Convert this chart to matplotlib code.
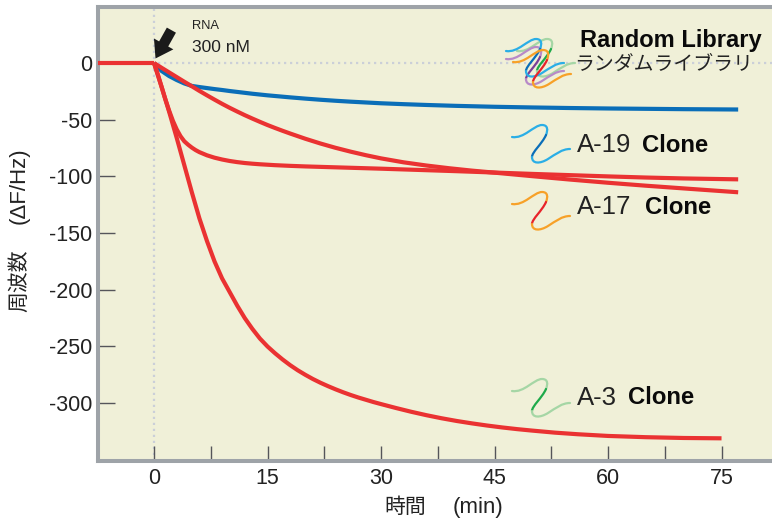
import matplotlib
matplotlib.use('Agg')
import matplotlib.pyplot as plt
from matplotlib.path import Path
from matplotlib.patches import PathPatch

plt.rcParams['font.family'] = ['Liberation Sans', 'Noto Sans CJK JP']
plt.rcParams['axes.unicode_minus'] = False

x_ticks = [0, 15, 30, 45, 60, 75]
x_minor = [7.5, 22.5, 37.5, 52.5, 67.5]
y_ticks = [0, -50, -100, -150, -200, -250, -300]

base_t = [-7.4, 0]
base_v = [0, 0]
blue_t = [0, 1, 2, 3, 4, 5, 6, 7, 8, 9, 10, 11, 12, 13, 14, 15, 16, 18, 20, 22, 24, 26, 28, 30, 33, 36, 40, 45, 50, 55, 60, 65, 70, 77.2]
blue_v = [0, -7, -11.5, -15, -18, -20.2, -21.2, -22.1, -23, -23.8, -24.7, -25.5, -26.3, -27.1, -27.8, -28.5, -29.1, -30.3, -31.4, -32.4, -33.3, -34.1, -34.8, -35.5, -36.3, -37, -37.8, -38.6, -39.2, -39.7, -40.1, -40.4, -40.7, -41]
a19_t = [0, 1, 2, 3, 4, 5, 6, 7, 8, 9, 10, 11, 12, 13, 14, 15, 16, 17, 18, 20, 22, 24, 26, 28, 30, 33, 36, 39, 42, 45, 50, 55, 60, 65, 70, 77.2]
a19_v = [0, -4.2, -8.3, -12.4, -16.5, -20.5, -24.6, -28.5, -32.3, -36, -39.5, -42.8, -46, -49, -51.9, -54.7, -57.3, -59.8, -62.2, -66.8, -71, -74.8, -78.2, -81.3, -84.1, -87.6, -90.4, -92.8, -94.9, -96.7, -99.8, -102.8, -105.6, -108.2, -110.6, -114]
a17_t = [0, 0.5, 1, 1.5, 2, 2.5, 3, 3.5, 4, 4.5, 5, 5.5, 6, 7, 8, 9, 10, 11, 12, 13, 14, 16, 18, 20, 25, 30, 35, 40, 45, 50, 55, 60, 65, 70, 77.2]
a17_v = [0, -10, -21, -32, -42, -51, -58.5, -64.5, -69, -72, -74.6, -76.8, -78.6, -81.4, -83.5, -85.1, -86.4, -87.4, -88.2, -88.8, -89.3, -90.1, -90.7, -91.2, -92.2, -93.2, -94.3, -95.4, -96.6, -97.8, -98.9, -100, -101, -101.8, -102.6]
a3_t = [0, 1, 2, 3, 4, 5, 6, 7, 8, 9, 10, 11, 12, 13, 14, 15, 16, 17, 18, 19, 20, 21, 22, 23, 24, 25, 26, 27, 28, 29, 30, 32, 34, 36, 38, 40, 42, 44, 46, 48, 50, 53, 56, 60, 65, 70, 75]
a3_v = [0, -21, -43, -66, -90, -114, -137, -157, -175, -190, -202, -214, -225, -234.5, -243, -250, -256, -261.5, -266.5, -271, -275, -278.7, -282, -285, -287.8, -290.4, -292.8, -295, -297, -299, -300.8, -304.3, -307.6, -310.6, -313.3, -315.7, -317.8, -319.7, -321.4, -322.9, -324.2, -326, -327.4, -328.9, -330, -330.7, -331]

bg = '#F0F0D8'
red = '#EA3232'
blue = '#0A6EB8'
grey = '#9EA3A8'
ink = '#222222'
black = '#0a0a0a'


def squiggle(ax, x0, y0, colors, lw=1.6):
    # S shape in pixels from x0, y0, drawn in three coloured pieces
    pieces = [
        [(0, 13), (12, 15), (22, 1), (30, 1), (36, 1), (36, 6), (34, 11)],
        [(34, 11), (30, 20), (20, 28), (20, 33)],
        [(20, 33), (20, 40), (28, 40), (36, 35), (44, 30), (50, 25), (58, 25)],
    ]
    for pts, c in zip(pieces, colors):
        codes = [Path.MOVETO] + [Path.CURVE4] * (len(pts) - 1)
        verts = [(x0 + p[0], 518 - (y0 + p[1])) for p in pts]
        ax.add_patch(PathPatch(Path(verts, codes), fc='none', ec=c, lw=lw,
                               transform=None, zorder=4, capstyle='round'))


fig = plt.figure(figsize=(7.72, 5.18), dpi=100)
ax = fig.add_axes([98 / 772, 1 - 461 / 518, 674 / 772, 454 / 518], facecolor=bg)
ax.set_xlim(-7.4, 81.67)
ax.set_ylim(-351, 49.4)

ax.axhline(0, color='#CBCFD8', lw=1.6, ls=(0, (1, 1.7)), zorder=1)
ax.axvline(0, color='#CBCFD8', lw=1.6, ls=(0, (1, 1.7)), zorder=1)

ax.plot(blue_t, blue_v, color=blue, lw=3, zorder=3, solid_capstyle='butt')
for t, v in [(a19_t, a19_v), (a17_t, a17_v), (a3_t, a3_v)]:
    ax.plot(t, v, color=red, lw=3, zorder=3, solid_capstyle='butt')
ax.plot(base_t, base_v, color=red, lw=3, zorder=3, solid_capstyle='butt')

for s in ['top', 'bottom', 'left']:
    ax.spines[s].set_color(grey)
    ax.spines[s].set_linewidth(2.9)
ax.spines['right'].set_visible(False)

ax.set_xticks(x_ticks)
ax.set_xticks(x_minor, minor=True)
ax.set_yticks(y_ticks)
ax.tick_params(axis='x', which='both', direction='in', length=10.5, width=1, color='#55555a',
               labelsize=15.5, labelcolor=ink, pad=5)
ax.tick_params(axis='y', direction='in', length=12.5, width=1, color='#55555a',
               labelsize=15.5, labelcolor=ink, pad=4)

# axis titles, Japanese and unit placed apart as in the original
fig.text(405 / 772, 1 - 507 / 518, '時間', fontsize=15, color=ink, ha='center', va='center')
fig.text(477.5 / 772, 1 - 507 / 518, '(min)', fontsize=16, color=ink, ha='center', va='center')
fig.text(19 / 772, 1 - 281 / 518, '周波数', fontsize=15, color=ink, rotation=90, ha='center', va='center')
fig.text(19 / 772, 1 - 186 / 518, '(ΔF/Hz)', fontsize=16, color=ink, rotation=90, ha='center', va='center')

# arrow at the injection point
ax.annotate('', xy=(0.2, 4), xytext=(2.3, 29),
            arrowprops=dict(facecolor='#1a1a1a', edgecolor='none', width=7.5, headwidth=16,
                            headlength=12, shrink=0))
ax.text(5, 33, 'RNA', fontsize=9.3, color=ink, va='center')
ax.text(5, 13.5, '300 nM', fontsize=12.5, color=ink, va='center')

squiggle(ax, 512, 124, ['#2AAEE6', blue, '#2AAEE6'])
squiggle(ax, 512, 191, ['#F7A128', '#E8232A', '#F7A128'])
squiggle(ax, 512, 378, ['#A5D6A5', '#1EAA4A', '#A5D6A5'])
squiggle(ax, 517, 38, ['#A5D6A5', '#1EAA4A', '#A5D6A5'])
squiggle(ax, 506, 46, ['#B88AC8', '#7A3F98', '#B88AC8'])
squiggle(ax, 506, 38, ['#2AAEE6', blue, '#2AAEE6'])
squiggle(ax, 513, 49, ['#F7A128', '#E8232A', '#F7A128'])

ax.text(762, 518 - 40, 'Random Library', transform=None, fontsize=17, fontweight='bold',
        ha='right', va='center', color=black, zorder=5)
ax.text(574, 518 - 64, 'ランダムライブラリ', transform=None, fontsize=14.3, va='center',
        color=ink, family='Noto Sans CJK JP', zorder=5)
for name, y, xb in [('A-19', 145, 642), ('A-17', 207, 645), ('A-3', 398, 628)]:
    ax.text(577, 518 - y, name, transform=None, fontsize=18.5, va='center', color=ink)
    ax.text(xb, 518 - y, 'Clone', transform=None, fontsize=17.2, fontweight='bold',
            va='center', color=black)

fig.savefig('out.png', dpi=100)
